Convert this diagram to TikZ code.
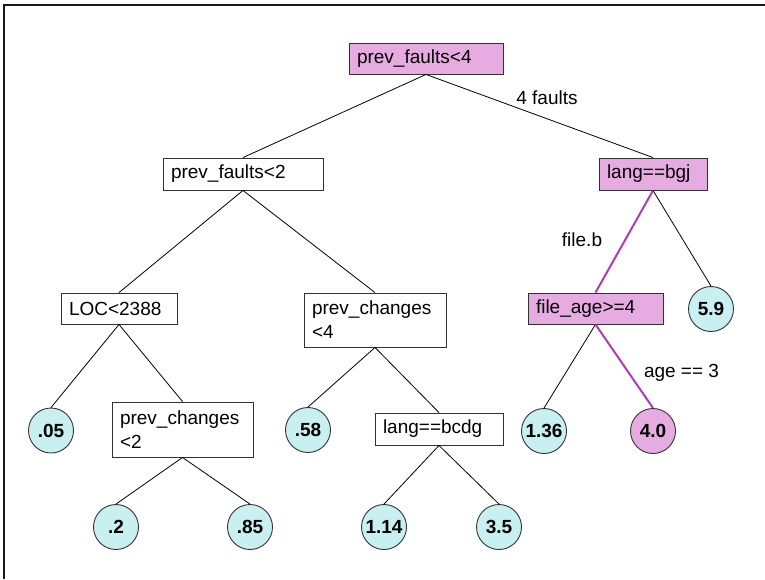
\documentclass[tikz,border=0pt]{standalone}
\usepackage{fontspec}
\setmainfont{Liberation Sans}
\definecolor{splitpink}{RGB}{230,172,226}
\definecolor{leafcyan}{RGB}{200,240,240}
\definecolor{pathpurple}{RGB}{176,60,180}
\definecolor{edgegray}{RGB}{50,50,50}
\begin{document}
\begin{tikzpicture}[x=1pt,y=-1pt,
  every node/.style={font=\fontsize{19}{24}\selectfont},
  split/.style={draw=edgegray, line width=0.9pt, fill=white, rectangle,
    inner xsep=8pt, inner ysep=0pt, align=left, anchor=center},
  hot/.style={split, fill=splitpink},
  leaf/.style={draw=edgegray, line width=0.9pt, fill=leafcyan, circle,
    minimum size=45pt, inner sep=0pt, font=\fontsize{19}{24}\selectfont\bfseries},
  hotleaf/.style={leaf, fill=splitpink},
  edge/.style={draw=black, line width=0.8pt},
  hotedge/.style={draw=pathpurple, line width=2pt},
  lbl/.style={inner sep=0pt}]
\useasboundingbox (0,0) rectangle (765,579);
% frame
\draw[line width=2pt, color=black!90] (4,579) -- (4,5) -- (765,5);

% split nodes
\node[hot, text width=138pt, minimum height=31pt] (root) at (426,58.5) {prev\_faults<4};
\node[split, text width=144pt, minimum height=32pt] (pf2) at (243,174) {prev\_faults<2};
\node[hot, text width=92pt, minimum height=32pt] (bgj) at (653,174) {lang==bgj};
\node[split, text width=100pt, minimum height=31pt] (loc) at (119,308.5) {LOC<2388};
\node[split, text width=126pt, minimum height=54pt] (pc4) at (375,320) {prev\_changes\\<4};
\node[hot, text width=119pt, minimum height=31pt] (fage) at (595.5,308.5) {file\_age>=4};
\node[split, text width=125pt, minimum height=55pt] (pc2) at (182.5,429.5) {prev\_changes\\<2};
\node[split, text width=112pt, minimum height=32pt] (bcdg) at (439,429) {lang==bcdg};

% leaves
\node[leaf] (l05) at (51,430.5) {.05};
\node[leaf] (l58) at (308,430) {.58};
\node[leaf] (l136) at (544,431) {1.36};
\node[hotleaf] (l40) at (653,431) {4.0};
\node[leaf] (l59) at (711,309) {5.9};
\node[leaf] (l2) at (116,527) {.2};
\node[leaf] (l85) at (250,527) {.85};
\node[leaf] (l114) at (384,527) {1.14};
\node[leaf] (l35) at (499,527) {3.5};

% edges
\draw[edge] (root.south) -- (pf2.north);
\draw[edge] (root.south) -- (bgj.north);
\draw[edge] (pf2.south) -- (loc.north);
\draw[edge] (pf2.south) -- (pc4.north);
\draw[edge] (loc.south) -- (l05.north);
\draw[edge] (loc.south) -- (pc2.north);
\draw[edge] (pc2.south) -- (l2.north);
\draw[edge] (pc2.south) -- (l85.north);
\draw[edge] (pc4.south) -- (l58.north);
\draw[edge] (pc4.south) -- (bcdg.north);
\draw[edge] (bcdg.south) -- (l114.north);
\draw[edge] (bcdg.south) -- (l35.north);
\draw[hotedge] (bgj.south) -- (fage.north);
\draw[edge] (bgj.south) -- (l59.north);
\draw[edge] (fage.south) -- (l136.north);
\draw[hotedge] (fage.south) -- (l40.north);

% edge labels
\node[lbl] (t4f) at (547,98) {4 faults};
\node[lbl] (tfb) at (582,240) {file.b};
\node[lbl] (tage) at (681.5,373) {age == 3};
\end{tikzpicture}
\end{document}
